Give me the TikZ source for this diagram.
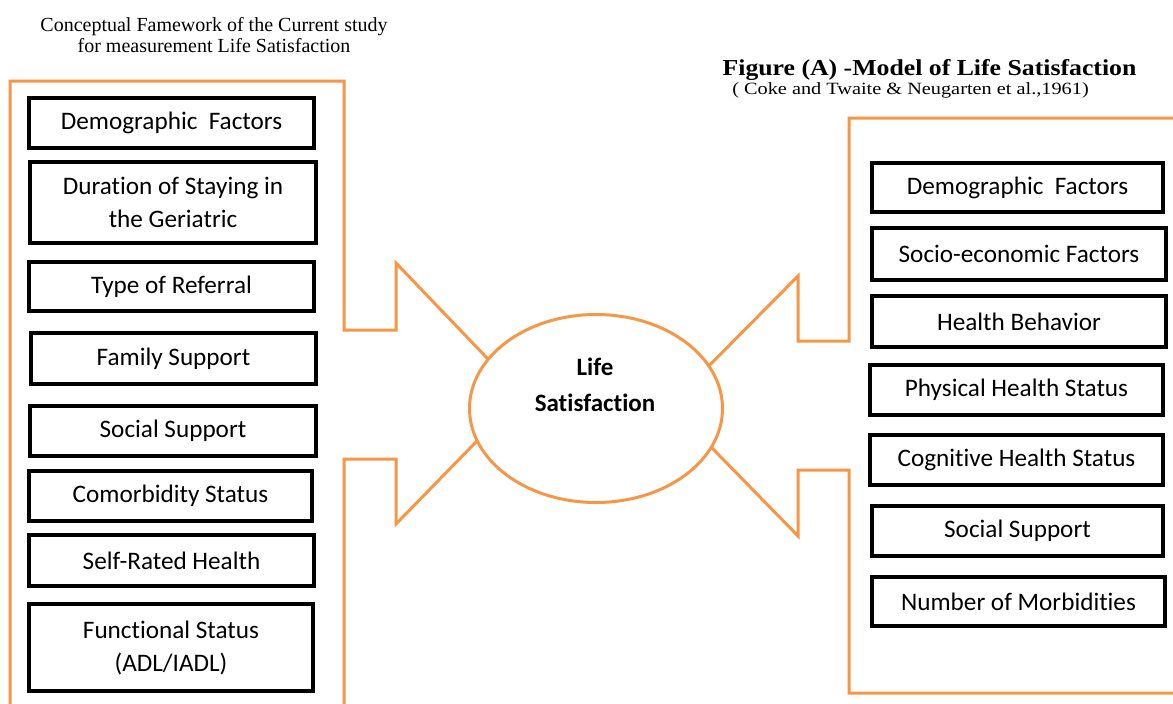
\documentclass[tikz,border=0pt]{standalone}
\usepackage{fontspec}
\setmainfont{Carlito}[Ligatures={NoCommon,NoContextual}]
\newfontfamily\titlefont{Liberation Serif}
\newfontfamily\titlewide{Liberation Serif}[FakeStretch=1.13]
\newfontfamily\subtitlewide{Liberation Serif}[FakeStretch=1.18]
\usetikzlibrary{shapes.geometric}
\definecolor{frameorange}{HTML}{F79646}
\begin{document}
\begin{tikzpicture}[x=1pt,y=-1pt,
  factorbox/.style={draw=black, line width=3.5pt, rectangle, inner sep=0pt,
    align=center, text=black, font=\fontsize{25.2}{33}\selectfont},
  frameline/.style={draw=frameorange, line width=3pt, line join=miter},
  hubshape/.style={ellipse, draw=frameorange, fill=white, line width=3pt,
    inner sep=0pt, minimum width=253pt, minimum height=188pt},
  hubtext/.style={align=center, text=black, font=\bfseries\fontsize{25}{36}\selectfont},
  ttlplain/.style={anchor=base, inner sep=0pt, font=\titlefont\fontsize{20}{21}\selectfont},
  ttlbold/.style={anchor=base, inner sep=0pt, font=\titlewide\bfseries\fontsize{22.8}{24}\selectfont},
  ttlsub/.style={anchor=base, inner sep=0pt, font=\subtitlewide\fontsize{17.2}{18}\selectfont},
]
\clip (0,0) rectangle (1173,704);
\fill[white] (0,0) rectangle (1173,704);

% headings
\node[ttlplain] (ttlLa) at (214,31) {Conceptual Famework of the Current study};
\node[ttlplain] (ttlLb) at (214,52) {for measurement Life Satisfaction};
\node[ttlbold] (ttlR) at (929.5,75) {Figure (A) -Model of Life Satisfaction};
\node[ttlsub] (ttlRsub) at (910.5,94) {( Coke and Twaite \& Neugarten et al.,1961)};

% left frame with its arrow towards the hub
\draw[frameline] (10,712) -- (10,81) -- (344,81) -- (344,330) -- (396,330)
  -- (396,263) -- (509.75,381.75);
\draw[frameline] (493.5,424) -- (396,524) -- (396,459) -- (344,459) -- (344,712);

% right frame with its arrow towards the hub
\draw[frameline] (1180,118) -- (849,118) -- (849,341) -- (798,341) -- (798,276)
  -- (688,387);
\draw[frameline] (691.75,427.25) -- (798,536) -- (798,470) -- (849,470)
  -- (849,693) -- (1180,693);

% central hub
\node[hubshape] (hub) at (596,408.5) {};
\node[hubtext] (hublabel) at (595,385) {Life\\Satisfaction};

% factors of the current study
\node[factorbox, minimum width=285pt, minimum height=50pt] (l1) at (171.5,123) {Demographic\ \ Factors};
\node[factorbox, minimum width=286pt, minimum height=81pt] (l2) at (173,202.5) {Duration of Staying in\\the Geriatric};
\node[factorbox, minimum width=285pt, minimum height=49pt] (l3) at (171.5,286.5) {Type of Referral};
\node[factorbox, minimum width=285pt, minimum height=51pt] (l4) at (173.5,358.5) {Family Support};
\node[factorbox, minimum width=286pt, minimum height=50pt] (l5) at (173,431) {Social Support};
\node[factorbox, minimum width=283pt, minimum height=50pt] (l6) at (170.5,496) {Comorbidity Status};
\node[factorbox, minimum width=285pt, minimum height=51pt] (l7) at (171.5,560.5) {Self-Rated Health};
\node[factorbox, minimum width=284pt, minimum height=87pt] (l8) at (171,647.5) {Functional Status\\(ADL/IADL)};

% factors of the model
\node[factorbox, minimum width=291pt, minimum height=49pt] (r1) at (1017.5,187.5) {Demographic\ \ Factors};
\node[factorbox, minimum width=294pt, minimum height=52pt] (r2) at (1019,254) {Socio-economic Factors};
\node[factorbox, minimum width=294pt, minimum height=51pt] (r3) at (1019,321.5) {Health Behavior};
\node[factorbox, minimum width=293pt, minimum height=50pt] (r4) at (1016.5,390) {Physical Health Status};
\node[factorbox, minimum width=293pt, minimum height=50pt] (r5) at (1016.5,460) {Cognitive Health Status};
\node[factorbox, minimum width=291pt, minimum height=50pt] (r6) at (1017.5,531) {Social Support};
\node[factorbox, minimum width=293pt, minimum height=49pt] (r7) at (1018.5,601.5) {Number of Morbidities};
\end{tikzpicture}
\end{document}
